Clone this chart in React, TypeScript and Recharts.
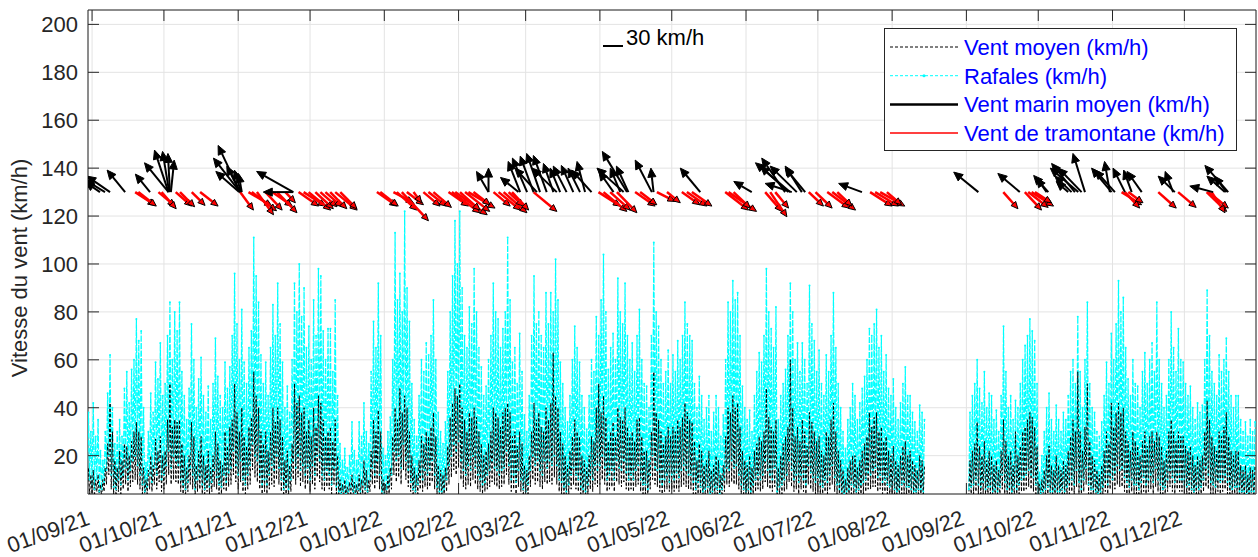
import { ComposedChart, Line, Scatter, XAxis, YAxis, CartesianGrid, ReferenceArea } from 'recharts'

// days are counted from 01/09/21; first sample is 30/08/21
const FIRST_DAY = -2

// plot box in page pixels (used only for axis decorations)
const PL = 88
const PR = 1256
const PT = 10
const PB = 494

const N = null
const GAP = [N, N, N, N, N, N, N, N, N, N, N, N, N, N, N, N, N]

// daily max gust (km/h)
const gustHigh: (number | null)[] = [
  38, 30,
  // sep 21
  42, 28, 35, 22, 18, 30, 46, 62, 40, 25, 30, 35, 28, 48, 55, 42, 56, 60, 77, 68, 72, 40, 17, 30, 46, 38, 59, 52, 67, 45,
  // oct 21
  50, 70, 84, 60, 80, 72, 84, 55, 45, 35, 48, 75, 60, 40, 52, 61, 45, 38, 49, 35, 50, 69, 53, 45, 40, 59, 48, 57, 70, 96, 75,
  // nov 21
  60, 81, 59, 50, 65, 72, 111, 95, 84, 62, 50, 59, 45, 65, 83, 70, 92, 75, 59, 40, 49, 38, 60, 92, 80, 100, 78, 90, 65, 74,
  // dec 21
  60, 85, 70, 98, 95, 72, 60, 73, 73, 55, 85, 45, 25, 18, 23, 15, 20, 34, 22, 18, 34, 28, 42, 30, 25, 55, 76, 65, 92, 70, 23,
  // jan 22
  20, 30, 36, 60, 113, 85, 96, 80, 122, 90, 76, 50, 35, 28, 45, 60, 55, 67, 62, 70, 85, 60, 38, 30, 25, 34, 55, 80, 95, 118, 100,
  // feb 22
  122, 90, 70, 65, 82, 75, 98, 80, 65, 57, 45, 49, 60, 70, 92, 80, 77, 65, 73, 80, 111, 85, 59, 65, 50, 71, 55, 37,
  // mar 22
  30, 45, 70, 95, 75, 80, 70, 65, 88, 75, 88, 80, 102, 85, 59, 50, 40, 34, 45, 60, 74, 65, 59, 45, 40, 31, 45, 60, 55, 78, 70,
  // apr 22
  85, 104, 80, 56, 65, 71, 60, 94, 80, 75, 92, 70, 60, 67, 55, 70, 81, 60, 50, 49, 40, 70, 109, 80, 74, 60, 50, 55, 64, 50,
  // may 22
  62, 55, 68, 60, 70, 84, 75, 70, 68, 50, 40, 53, 45, 35, 40, 45, 30, 38, 45, 40, 28, 37, 60, 84, 80, 93, 85, 88, 70, 49, 40,
  // jun 22
  35, 39, 30, 45, 55, 63, 59, 70, 98, 80, 73, 65, 82, 35, 45, 50, 56, 70, 92, 80, 60, 67, 55, 67, 60, 50, 91, 75, 68, 55,
  // jul 22
  64, 50, 45, 62, 55, 70, 88, 65, 50, 40, 30, 23, 35, 40, 50, 45, 35, 42, 48, 53, 60, 73, 70, 75, 81, 65, 70, 55, 62, 48, 45,
  // aug 22 (no data after the 14th)
  52, 40, 35, 42, 50, 57, 45, 45, 38, 34, 30, 41, 38, 35, ...GAP,
  // sep 22
  N, 38, 45, 50, 60, 48, 42, 55, 40, 46, 45, 35, 39, 30, 45, 74, 55, 40, 45, 35, 43, 40, 50, 60, 66, 70, 77, 72, 68, 50,
  // oct 22
  13, 20, 30, 40, 46, 35, 30, 41, 35, 30, 38, 35, 45, 55, 60, 50, 78, 55, 40, 60, 84, 50, 40, 38, 30, 28, 34, 45, 59, 50, 71,
  // nov 22
  60, 75, 93, 80, 86, 65, 52, 45, 60, 50, 49, 40, 55, 63, 50, 60, 67, 55, 84, 60, 50, 40, 45, 60, 80, 65, 55, 73, 60, 59,
  // dec 22
  50, 45, 49, 40, 35, 42, 38, 41, 60, 89, 70, 55, 50, 45, 62, 55, 60, 69, 55, 45, 40, 45, 45, 35, 30, 34, 28, 35, 30, 34,
]

// daily min gust (km/h)
const gustLow: (number | null)[] = [
  12, 10,
  8, 6, 10, 5, 6, 9, 14, 20, 12, 7, 6, 10, 8, 12, 15, 10, 14, 18, 20, 16, 12, 8, 5, 7, 12, 9, 15, 12, 18, 10,
  12, 16, 22, 15, 20, 18, 16, 10, 8, 6, 9, 15, 12, 6, 10, 12, 8, 6, 10, 7, 9, 14, 11, 8, 7, 12, 9, 13, 15, 22, 16,
  12, 18, 10, 8, 12, 16, 25, 20, 18, 12, 8, 10, 8, 12, 16, 14, 20, 15, 10, 6, 8, 6, 10, 18, 15, 20, 14, 16, 12, 15,
  10, 16, 12, 20, 18, 12, 10, 14, 12, 8, 15, 7, 5, 4, 5, 4, 5, 7, 5, 4, 6, 5, 8, 6, 5, 10, 15, 12, 18, 12, 5,
  4, 6, 8, 12, 22, 18, 20, 15, 25, 18, 14, 9, 6, 5, 8, 12, 10, 14, 12, 14, 18, 12, 7, 5, 5, 6, 10, 16, 20, 25, 22,
  26, 18, 14, 12, 16, 14, 20, 15, 12, 10, 8, 9, 12, 14, 18, 15, 14, 12, 14, 15, 22, 16, 10, 12, 9, 14, 10, 6,
  5, 8, 14, 20, 16, 18, 14, 12, 18, 15, 18, 16, 20, 16, 10, 9, 7, 5, 8, 12, 15, 12, 10, 7, 6, 5, 8, 12, 10, 16, 14,
  16, 20, 15, 10, 12, 14, 10, 18, 15, 14, 18, 13, 10, 12, 10, 14, 16, 10, 8, 8, 6, 12, 20, 15, 14, 10, 8, 10, 12, 9,
  12, 10, 13, 11, 14, 16, 14, 12, 12, 9, 6, 9, 7, 5, 6, 7, 4, 5, 7, 6, 4, 6, 10, 15, 14, 18, 15, 16, 12, 8, 6,
  5, 6, 5, 8, 10, 12, 10, 12, 18, 14, 12, 10, 15, 5, 7, 8, 10, 12, 18, 14, 10, 12, 9, 12, 10, 8, 16, 13, 11, 9,
  11, 8, 7, 10, 9, 12, 16, 11, 8, 6, 5, 4, 5, 6, 8, 7, 5, 6, 8, 9, 10, 13, 12, 14, 15, 11, 12, 9, 10, 8, 7,
  8, 6, 5, 6, 8, 9, 7, 7, 6, 5, 5, 6, 6, 5, ...GAP,
  N, 6, 7, 8, 10, 8, 7, 9, 6, 7, 7, 5, 6, 5, 7, 12, 9, 6, 7, 5, 7, 6, 8, 10, 11, 12, 14, 12, 11, 8,
  3, 4, 5, 6, 7, 5, 5, 6, 5, 5, 6, 5, 7, 9, 10, 8, 14, 9, 6, 10, 15, 8, 6, 6, 5, 4, 5, 7, 10, 8, 12,
  10, 13, 16, 14, 15, 11, 9, 7, 10, 8, 8, 6, 9, 11, 8, 10, 12, 9, 15, 10, 8, 6, 7, 10, 14, 11, 9, 12, 10, 10,
  8, 7, 8, 6, 5, 7, 6, 7, 10, 15, 12, 9, 8, 7, 10, 9, 10, 12, 9, 7, 6, 7, 7, 5, 5, 5, 4, 5, 5, 5,
]

// daily max of the mean wind (km/h)
const windHigh: (number | null)[] = [
  15, 12,
  14, 10, 12, 8, 10, 15, 25, 42, 30, 18, 15, 22, 18, 25, 24, 20, 26, 30, 34, 30, 28, 15, 10, 14, 20, 16, 27, 22, 28, 20,
  22, 35, 50, 32, 35, 34, 35, 25, 20, 15, 20, 34, 28, 16, 22, 28, 20, 16, 22, 15, 20, 30, 25, 18, 16, 30, 24, 32, 35, 50, 38,
  30, 40, 28, 24, 32, 36, 55, 45, 40, 30, 25, 30, 22, 30, 40, 34, 40, 35, 28, 18, 22, 16, 25, 50, 42, 45, 38, 40, 30, 35,
  28, 40, 32, 45, 42, 35, 28, 30, 32, 26, 35, 20, 10, 8, 10, 7, 9, 12, 9, 8, 12, 10, 18, 14, 10, 22, 35, 30, 39, 30, 10,
  8, 12, 15, 28, 40, 35, 48, 38, 45, 40, 30, 20, 15, 12, 18, 28, 25, 30, 28, 32, 38, 28, 16, 14, 12, 15, 24, 36, 42, 48, 45,
  50, 40, 35, 30, 38, 36, 40, 36, 30, 25, 20, 22, 25, 30, 40, 38, 36, 32, 38, 40, 42, 38, 28, 30, 24, 30, 25, 16,
  14, 20, 30, 42, 35, 38, 32, 30, 40, 35, 42, 63, 45, 40, 30, 25, 20, 16, 22, 28, 35, 30, 28, 20, 18, 15, 20, 28, 26, 40, 50,
  38, 45, 36, 26, 30, 34, 28, 40, 36, 35, 40, 32, 28, 30, 26, 35, 36, 28, 22, 22, 18, 30, 55, 38, 35, 30, 25, 28, 32, 28,
  32, 30, 35, 32, 36, 42, 38, 35, 34, 26, 18, 25, 22, 16, 18, 22, 14, 16, 20, 18, 12, 16, 28, 40, 38, 45, 40, 42, 32, 22, 18,
  16, 20, 15, 22, 25, 28, 26, 30, 48, 36, 32, 30, 35, 15, 20, 25, 28, 32, 60, 40, 28, 32, 26, 35, 30, 24, 38, 34, 30, 26,
  28, 22, 20, 30, 28, 35, 42, 30, 22, 18, 14, 10, 15, 18, 20, 20, 15, 18, 22, 25, 28, 38, 32, 36, 38, 30, 32, 26, 28, 22, 20,
  24, 18, 16, 20, 24, 26, 20, 22, 18, 16, 14, 20, 18, 16, ...GAP,
  N, 18, 22, 25, 34, 24, 20, 26, 18, 22, 20, 16, 18, 14, 22, 35, 26, 20, 22, 16, 30, 20, 24, 30, 32, 35, 38, 36, 32, 24,
  8, 10, 14, 20, 24, 16, 14, 20, 16, 14, 18, 16, 22, 28, 35, 30, 55, 30, 22, 32, 50, 26, 20, 18, 14, 12, 16, 22, 30, 25, 42,
  32, 38, 42, 38, 40, 30, 26, 22, 30, 26, 24, 20, 26, 30, 24, 28, 30, 26, 30, 28, 24, 18, 22, 30, 35, 30, 26, 30, 28, 28,
  24, 22, 24, 20, 16, 20, 18, 20, 30, 43, 35, 28, 24, 22, 30, 28, 32, 38, 28, 22, 20, 22, 22, 16, 14, 16, 12, 15, 14, 16,
]

// daily min of the mean wind (km/h)
const windLow: (number | null)[] = [
  5, 4,
  4, 3, 5, 3, 3, 5, 8, 12, 6, 4, 3, 5, 4, 6, 8, 5, 7, 9, 10, 8, 6, 4, 3, 4, 6, 5, 8, 6, 9, 5,
  6, 8, 12, 8, 10, 9, 8, 5, 4, 3, 5, 8, 6, 3, 5, 6, 4, 3, 5, 4, 5, 7, 6, 4, 4, 6, 5, 7, 8, 12, 9,
  6, 9, 5, 4, 6, 8, 14, 11, 9, 6, 4, 5, 4, 6, 8, 7, 10, 8, 5, 3, 4, 3, 5, 10, 8, 11, 7, 9, 6, 8,
  5, 8, 6, 11, 9, 6, 5, 7, 6, 4, 8, 4, 3, 2, 3, 2, 3, 3, 3, 2, 3, 3, 4, 3, 3, 5, 8, 6, 9, 6, 3,
  2, 3, 4, 6, 12, 9, 11, 8, 14, 10, 7, 5, 3, 3, 4, 6, 5, 7, 6, 7, 9, 6, 4, 3, 3, 3, 5, 8, 11, 14, 12,
  15, 10, 7, 6, 8, 7, 10, 8, 6, 5, 4, 5, 6, 7, 9, 8, 7, 6, 7, 8, 12, 8, 5, 6, 4, 7, 5, 3,
  3, 4, 7, 10, 8, 9, 7, 6, 9, 8, 9, 8, 11, 8, 5, 4, 4, 3, 4, 6, 8, 6, 5, 4, 3, 3, 4, 6, 5, 8, 7,
  8, 10, 8, 5, 6, 7, 5, 9, 8, 7, 9, 6, 5, 6, 5, 7, 8, 5, 4, 4, 3, 6, 10, 8, 7, 5, 4, 5, 6, 5,
  6, 5, 6, 5, 7, 8, 7, 6, 6, 4, 3, 4, 3, 3, 3, 3, 2, 3, 3, 3, 2, 3, 5, 8, 7, 9, 8, 8, 6, 4, 3,
  3, 3, 3, 4, 5, 6, 5, 6, 9, 7, 6, 5, 7, 3, 3, 4, 5, 6, 9, 7, 5, 6, 4, 6, 5, 4, 8, 6, 5, 4,
  5, 4, 3, 5, 4, 6, 8, 5, 4, 3, 3, 2, 3, 3, 4, 3, 3, 3, 4, 4, 5, 6, 6, 7, 7, 5, 6, 4, 5, 4, 3,
  4, 3, 3, 3, 4, 4, 3, 3, 3, 3, 3, 3, 3, 3, ...GAP,
  N, 3, 3, 4, 5, 4, 3, 4, 3, 3, 3, 3, 3, 3, 3, 6, 4, 3, 3, 3, 3, 3, 4, 5, 5, 6, 7, 6, 5, 4,
  2, 2, 2, 3, 3, 3, 2, 3, 3, 2, 3, 3, 3, 4, 5, 4, 7, 4, 3, 5, 8, 4, 3, 3, 2, 2, 2, 3, 5, 4, 6,
  5, 6, 8, 7, 7, 5, 4, 3, 5, 4, 4, 3, 4, 5, 4, 5, 6, 4, 7, 5, 4, 3, 3, 5, 7, 5, 4, 6, 5, 5,
  4, 3, 4, 3, 3, 3, 3, 3, 5, 7, 6, 4, 4, 3, 5, 4, 5, 6, 4, 3, 3, 3, 3, 2, 2, 2, 2, 2, 2, 2,
]

const tickDays = [0, 30, 61, 91, 122, 153, 181, 212, 242, 273, 303, 334, 365, 395, 426, 456]
const tickLabels = [
  '01/09/21', '01/10/21', '01/11/21', '01/12/21', '01/01/22', '01/02/22', '01/03/22', '01/04/22',
  '01/05/22', '01/06/22', '01/07/22', '01/08/22', '01/09/22', '01/10/22', '01/11/22', '01/12/22',
]
const yTicks = [20, 40, 60, 80, 100, 120, 140, 160, 180, 200]

// quiver arrows drawn at 130 km/h: [day, u east, v north] in km/h
const ARROW_BASE = 130
const marinArrows: [number, number, number][] = [
  [3.3, -22, 15], [5.4, -30, 18], [7.5, -35, 24], [13.8, -27, 33], [24.2, -22, 27],
  [31.9, -36, 44], [31.9, -21, 63], [32.2, -10, 61], [32.5, -3, 58], [32.9, 5, 48],
  [61.8, -33, 70], [61.8, -40, 51], [61.4, -35, 31], [61.8, -20, 39], [62.2, -10, 33], [62.5, -5, 28],
  [84, -55, 31], [84, -45, 0],
  [165.5, -18, 31], [165.5, 0, 36], [178, -27, 22], [178.7, -18, 46], [181.6, -22, 51], [184.3, -20, 54],
  [185.7, -33, 36], [187, -20, 58], [189.8, -20, 55], [192.6, -15, 43], [194, -37, 36], [195.4, -15, 36],
  [198.1, -20, 39], [200.9, -18, 40], [203.7, -18, 36], [205.8, -12, 46], [208.5, -30, 33],
  [217.7, -22, 31], [220.5, -15, 36], [221.9, -40, 36], [223.3, -37, 61], [223.9, -18, 39],
  [233.7, -25, 48], [234.4, -4, 36],
  [253.9, -30, 36], [275.4, -27, 16],
  [289.3, -35, 51], [290.7, -42, 39], [291.4, -52, 44], [292.1, -40, 13], [294.2, -40, 39], [296.3, -25, 39], [297.7, -30, 36],
  [321.4, -35, 13],
  [370, -37, 30], [387.3, -33, 28], [398.5, -15, 21], [399.2, -22, 25],
  [407.5, -18, 16], [408.9, -25, 24], [410.3, -35, 43], [411.7, -42, 36], [413.1, -35, 36], [414.5, -18, 58],
  [424.9, -8, 46], [425.6, -30, 36], [427, -30, 33], [431.2, -18, 36], [434, -12, 33], [438.2, -22, 31],
  [451.3, -12, 31], [452, -25, 24], [468, -35, 9], [472.9, -27, 24], [473.6, -18, 24], [474.3, -35, 40],
]
const tramontaneArrows: [number, number, number][] = [
  [18, 30, -20], [19.3, 27, -21], [27.7, 25, -21], [29, 22, -25], [34.9, 24, -21], [36.7, 22, -22],
  [41.6, 20, -20], [45.1, 27, -21], [61.8, 20, -27], [65.3, 35, -21], [66.7, 37, -28], [68.8, 25, -34],
  [72.4, 25, -27], [75.2, 30, -21], [77.2, 30, -31], [80.7, 15, -16], [86.2, 30, -21], [88.3, 33, -21],
  [90.4, 33, -27], [93.2, 27, -25], [95.3, 25, -22], [97.4, 25, -22], [99.4, 25, -25], [101.5, 33, -27],
  [103.6, 25, -25], [118.9, 30, -21], [120.3, 27, -21], [125.8, 30, -16], [127.2, 30, -27], [129.3, 40, -43],
  [131.4, 25, -19], [134.2, 12, -16], [138.3, 25, -21], [140.4, 27, -21], [142.5, 27, -23], [148.8, 30, -21],
  [150.2, 42, -31], [151.6, 48, -34], [153.6, 30, -27], [155.7, 37, -29], [157.1, 40, -24], [159.2, 25, -19],
  [167.6, 25, -21], [169.7, 33, -27], [171.8, 35, -31], [173.9, 22, -21], [175.3, 25, -27], [184.3, 35, -29],
  [211.4, 33, -21], [213.5, 35, -29], [216.3, 30, -27], [219.1, 30, -31], [226.7, 30, -21], [228.8, 25, -19],
  [235.8, 27, -14], [240, 20, -16], [246.2, 27, -19], [248.3, 30, -21], [250.4, 30, -21], [264.3, 35, -27],
  [265.7, 42, -29], [267.8, 25, -24], [281, 25, -29], [283.1, 25, -37], [285.2, 20, -24], [299.2, 22, -21],
  [302, 25, -24], [306.9, 33, -24], [309, 35, -27], [311.1, 22, -21], [324.8, 33, -21], [326.9, 35, -21],
  [329, 37, -21], [331.8, 22, -19], [380.4, 22, -25], [389.4, 25, -27], [390.8, 30, -23], [392.2, 33, -21],
  [393.6, 25, -16], [429.8, 30, -19], [431.2, 22, -24], [432.6, 22, -16], [445.1, 27, -24], [453.4, 27, -23],
  [465.3, 30, -29], [466, 30, -24], [467.4, 20, -31],
]

// 30 km/h is drawn 20 px long (see the scale bar)
const PX_PER_KMH = 20 / 30

const series = gustHigh.flatMap((g, i) => [
  { t: FIRST_DAY + i, gust: gustLow[i], wind: windLow[i] },
  { t: FIRST_DAY + i + 0.5, gust: g, wind: windHigh[i] },
])
const marinData = marinArrows.map(([t, u, v]) => ({ t, y: ARROW_BASE, u, v }))
const tramontaneData = tramontaneArrows.map(([t, u, v]) => ({ t, y: ARROW_BASE, u, v }))

const AXIS = '#262626'
const FONT = 'Arial, "Liberation Sans", Helvetica, sans-serif'

function arrowShape(shaft: string, head: string, width: number, headLen: number) {
  return (props: any) => {
    const { cx, cy, payload } = props
    if (cx == null || cy == null) return null
    const ex = cx + payload.u * PX_PER_KMH
    const ey = cy - payload.v * PX_PER_KMH
    const a = Math.atan2(ey - cy, ex - cx)
    const cos = Math.cos(a)
    const sin = Math.sin(a)
    const bx = ex - headLen * cos
    const by = ey - headLen * sin
    const hw = headLen * 0.45
    const pts = `${ex},${ey} ${bx - hw * sin},${by + hw * cos} ${bx + hw * sin},${by - hw * cos}`
    return (
      <g>
        <line x1={cx} y1={cy} x2={bx} y2={by} stroke={shaft} strokeWidth={width} />
        <polygon points={pts} fill={shaft} stroke={head} strokeWidth={1} />
      </g>
    )
  }
}

function XTick(props: any) {
  const { x, payload } = props
  const label = tickLabels[tickDays.indexOf(payload.value)]
  const ax = x - 1
  const ay = PB + 30
  return (
    <g>
      <line x1={x} x2={x} y1={PB} y2={PB - 11} stroke={AXIS} />
      <line x1={x} x2={x} y1={PT} y2={PT + 11} stroke={AXIS} />
      <text x={ax} y={ay} textAnchor="end" transform={`rotate(-20 ${ax} ${ay})`} fontSize={22} fill={AXIS} fontFamily={FONT}>
        {label}
      </text>
    </g>
  )
}

function YTick(props: any) {
  const { y, payload } = props
  return (
    <g>
      <line x1={PL} x2={PL + 11} y1={y} y2={y} stroke={AXIS} />
      <line x1={PR - 11} x2={PR} y1={y} y2={y} stroke={AXIS} />
      <text x={PL - 10} y={y + 8} textAnchor="end" fontSize={22} fill={AXIS} fontFamily={FONT}>
        {payload.value}
      </text>
    </g>
  )
}

const legendRows = [
  { label: 'Vent moyen (km/h)', color: '#000000', width: 1, dash: '3 2', dot: false },
  { label: 'Rafales (km/h)', color: '#00ffff', width: 1, dash: '3 2', dot: true },
  { label: 'Vent marin moyen (km/h)', color: '#000000', width: 2.5, dash: undefined, dot: false },
  { label: 'Vent de tramontane (km/h)', color: '#ff0000', width: 1.5, dash: undefined, dot: false },
]

function Overlay() {
  return (
    <svg width={1258} height={557} style={{ position: 'absolute', left: 0, top: 0, pointerEvents: 'none' }}>
      <text
        x={0}
        y={0}
        transform="translate(27 268) rotate(-90)"
        textAnchor="middle"
        fontSize={22}
        fill={AXIS}
        fontFamily={FONT}
      >
        Vitesse du vent (km/h)
      </text>
      <line x1={603} x2={603 + 30 * PX_PER_KMH} y1={46} y2={46} stroke="#000" strokeWidth={2} />
      <text x={626} y={45} fontSize={22} fill="#000" fontFamily={FONT}>30 km/h</text>
      <rect x={884.5} y={28.5} width={352} height={122} fill="#fff" stroke={AXIS} strokeWidth={1} />
      {legendRows.map((r, i) => {
        const cy = 47 + i * 28.7
        return (
          <g key={r.label}>
            <line x1={890} x2={958} y1={cy} y2={cy} stroke={r.color} strokeWidth={r.width} strokeDasharray={r.dash} />
            {r.dot && <circle cx={924} cy={cy} r={1.5} fill={r.color} />}
            <text x={964} y={cy + 8} fontSize={22} fill="#0000ff" fontFamily={FONT}>{r.label}</text>
          </g>
        )
      })}
    </svg>
  )
}

export default function App() {
  return (
    <div style={{ position: 'absolute', left: 0, top: 0, width: 1258, height: 557, background: '#fff' }}>
      <ComposedChart width={1258} height={557} data={series} margin={{ top: PT, right: 1258 - PR, bottom: 0, left: 0 }}>
        <CartesianGrid stroke="#e3e3e3" strokeWidth={1} />
        <XAxis
          dataKey="t"
          type="number"
          domain={[-1.7, 485.9]}
          ticks={tickDays}
          interval={0}
          allowDataOverflow
          height={557 - PB}
          tickLine={false}
          axisLine={false}
          tick={XTick}
        />
        <YAxis
          type="number"
          domain={[4, 206]}
          ticks={yTicks}
          interval={0}
          allowDataOverflow
          width={PL}
          tickLine={false}
          axisLine={false}
          tick={YTick}
        />
        <Line
          dataKey="gust"
          stroke="#00ffff"
          strokeWidth={1.2}
          strokeDasharray="6 1.5"
          dot={{ r: 1, fill: '#00ffff', stroke: 'none' }}
          connectNulls={false}
          isAnimationActive={false}
        />
        <Line
          dataKey="wind"
          stroke="#000000"
          strokeWidth={1}
          strokeDasharray="3 2"
          dot={false}
          connectNulls={false}
          isAnimationActive={false}
        />
        <Scatter data={tramontaneData} dataKey="y" shape={arrowShape('#ff0000', '#000000', 2.5, 7)} isAnimationActive={false} />
        <Scatter data={marinData} dataKey="y" shape={arrowShape('#000000', '#000000', 2, 9)} isAnimationActive={false} />
        <ReferenceArea x1={-1.7} x2={485.9} y1={4} y2={206} fill="none" stroke={AXIS} strokeWidth={1} ifOverflow="visible" />
      </ComposedChart>
      <Overlay />
    </div>
  )
}
